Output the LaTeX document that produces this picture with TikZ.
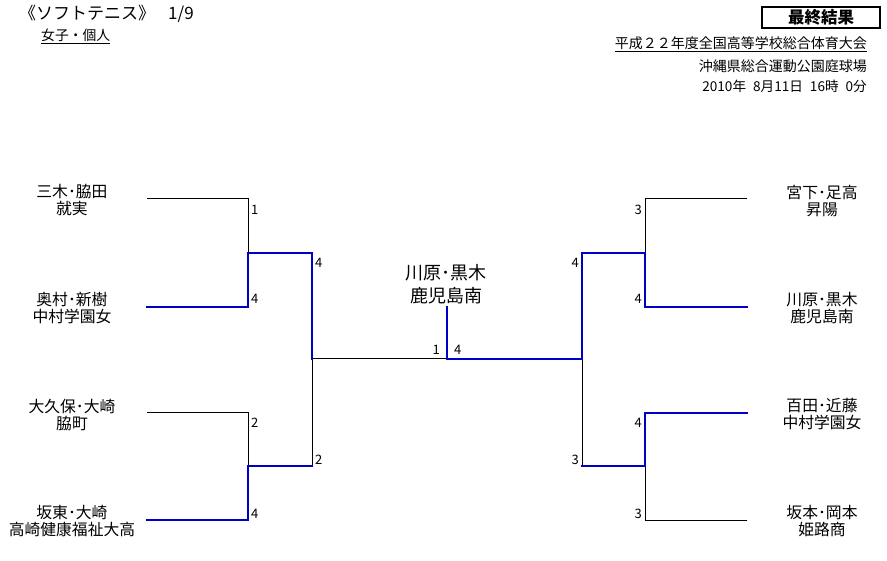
\documentclass[tikz,border=0pt]{standalone}
\usepackage{fontspec}
\setmainfont{Noto Sans CJK JP}
\definecolor{winblue}{RGB}{0,0,196}
\tikzset{
  lose/.style={draw=black,line width=1pt},
  win/.style={draw=winblue,line width=2.7pt,line join=miter,line cap=rect},
  pname/.style={align=center,inner sep=0pt,font=\fontsize{15.8}{17.8}\selectfont},
  cname/.style={align=center,inner sep=0pt,font=\fontsize{18}{23}\selectfont},
  score/.style={inner sep=0pt,font=\fontsize{13}{13}\selectfont},
}
\begin{document}
\begin{tikzpicture}[x=1pt,y=-1pt]
\useasboundingbox[fill=white] (0,0) rectangle (887,561);
% header
\node[anchor=west,inner sep=0pt,font=\fontsize{17}{19}\selectfont] (title) at (19,14) {《ソフトテニス》\hspace{13pt}1/9};
\node[anchor=west,inner sep=0pt,font=\fontsize{13.8}{15}\selectfont] (cat) at (41,36) {\underline{女子・個人}};
\node[draw,line width=1.6pt,minimum width=118pt,minimum height=21pt,inner sep=0pt,font=\bfseries\fontsize{16.5}{18}\selectfont] (final) at (821,17.5) {最終結果};
\node[anchor=east,inner sep=0pt,font=\fontsize{14}{16}\selectfont] (event) at (867,44) {\underline{平成２２年度全国高等学校総合体育大会}};
\node[anchor=east,inner sep=0pt,font=\fontsize{14}{16}\selectfont] (venue) at (867,66) {沖縄県総合運動公園庭球場};
\node[anchor=east,inner sep=0pt,font=\fontsize{13.6}{15}\selectfont] (date) at (867,86) {2010年\hspace{7pt}8月11日\hspace{7pt}16時\hspace{7pt}0分};

% coordinates
\coordinate (a1) at (147,199); \coordinate (b1) at (248,199);
\coordinate (a2) at (147,307); \coordinate (b2) at (248,307);
\coordinate (m12) at (248,253); \coordinate (c12) at (312,253);
\coordinate (a3) at (147,413); \coordinate (b3) at (248,413);
\coordinate (a4) at (147,520); \coordinate (b4) at (248,520);
\coordinate (m34) at (248,466); \coordinate (c34) at (312,466);
\coordinate (mL) at (312,359);
\coordinate (ctr) at (447,359); \coordinate (ctop) at (447,307);
\coordinate (mR) at (582,359);
\coordinate (cR1) at (582,253); \coordinate (m56) at (645,253);
\coordinate (b5) at (645,199); \coordinate (a5) at (747,199);
\coordinate (b6) at (645,307); \coordinate (a6) at (747,307);
\coordinate (cR2) at (582,466); \coordinate (m78) at (645,466);
\coordinate (b7) at (645,413); \coordinate (a7) at (747,413);
\coordinate (b8) at (645,520); \coordinate (a8) at (747,520);

% losing lines
\draw[lose] (a1) -- (b1) -- (m12);
\draw[lose] (a3) -- (b3) -- (m34);
\draw[lose] (mL) -- (c34);
\draw[lose] (mL) -- (ctr);
\draw[lose] (mR) -- (cR2);
\draw[lose] (a5) -- (b5) -- (m56);
\draw[lose] (a8) -- (b8) -- (m78);

% winning lines
\draw[win] (a2) -- (b2) -- (m12) -- (c12) -- (mL);
\draw[win] (a4) -- (b4) -- (m34) -- (c34);
\draw[win] (ctop) -- (ctr) -- (mR) -- (cR1) -- (m56) -- (b6) -- (a6);
\draw[win] (cR2) -- (m78) -- (b7) -- (a7);

% player names
\node[pname] (p1) at (72,200) {三木･脇田\\就実};
\node[pname] (p2) at (72,308) {奥村･新樹\\中村学園女};
\node[pname] (p3) at (72,415) {大久保･大崎\\脇町};
\node[pname] (p4) at (72,521) {坂東･大崎\\高崎健康福祉大高};
\node[pname] (p5) at (822,201) {宮下･足高\\昇陽};
\node[pname] (p6) at (822,308) {川原･黒木\\鹿児島南};
\node[pname] (p7) at (822,414) {百田･近藤\\中村学園女};
\node[pname] (p8) at (822,521) {坂本･岡本\\姫路商};
\node[cname] (champ) at (446,284) {川原･黒木\\鹿児島南};

% scores
\node[score,anchor=west] (s1) at (251,210) {1};
\node[score,anchor=west] (s2) at (251,299) {4};
\node[score,anchor=west] (s3) at (251,423) {2};
\node[score,anchor=west] (s4) at (251,514) {4};
\node[score,anchor=west] (s12) at (315,263) {4};
\node[score,anchor=west] (s34) at (315,460) {2};
\node[score,anchor=east] (sfl) at (440,350) {1};
\node[score,anchor=west] (sfr) at (454,350) {4};
\node[score,anchor=east] (s56) at (579,263) {4};
\node[score,anchor=east] (s78) at (579,460) {3};
\node[score,anchor=east] (s5) at (642,210) {3};
\node[score,anchor=east] (s6) at (642,299) {4};
\node[score,anchor=east] (s7) at (642,423) {4};
\node[score,anchor=east] (s8) at (642,514) {3};
\end{tikzpicture}
\end{document}
